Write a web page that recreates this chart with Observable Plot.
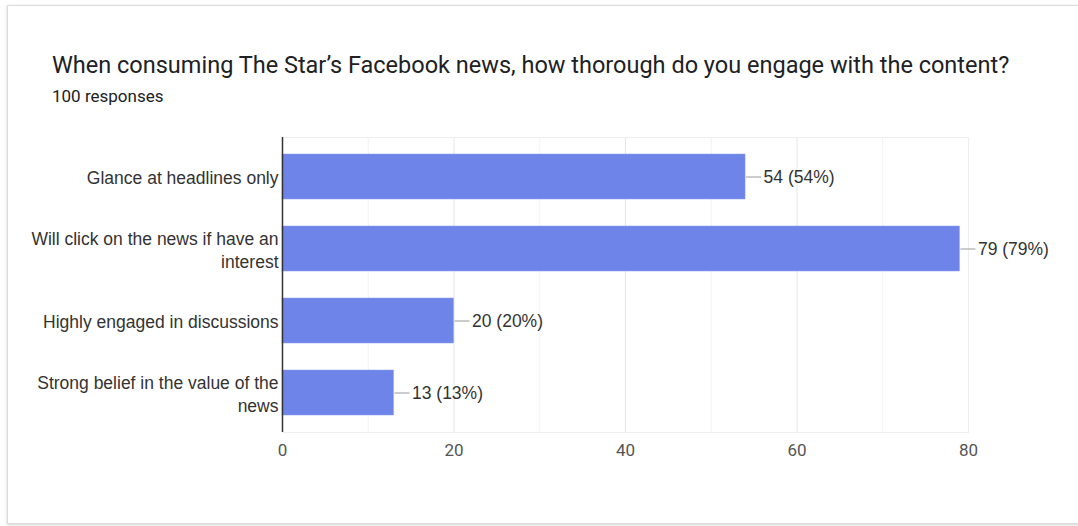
<!DOCTYPE html>
<html>
<head>
<meta charset="utf-8">
<script src="https://cdn.jsdelivr.net/npm/d3@7"></script>
<script src="https://cdn.jsdelivr.net/npm/@observablehq/plot@0.6"></script>
<style>
  html, body { margin: 0; padding: 0; background: #fff; width: 1078px; height: 526px; overflow: hidden; }
  #card { position: absolute; left: 7px; top: 5px; width: 1090px; height: 517px; border: 1px solid #dcdcdc; box-shadow: 0 1px 3px rgba(0,0,0,0.18); background: #fff; }
  #title { position: absolute; left: 52px; top: 51px; font-family: Roboto, "Noto Sans", sans-serif; font-size: 23.5px; color: #202124; white-space: nowrap; }
  #subtitle { position: absolute; left: 52px; top: 86px; font-family: Roboto, "Noto Sans", sans-serif; font-size: 17px; color: #202124; }
  #chart { position: absolute; left: 0; top: 120px; }
</style>
</head>
<body>
<div id="card"></div>
<div id="title">When consuming The Star’s Facebook news, how thorough do you engage with the content?</div>
<div id="subtitle">100 responses</div>
<div id="chart"></div>
<script>
const categories = [
  "Glance at headlines only",
  "Will click on the news if have an interest",
  "Highly engaged in discussions",
  "Strong belief in the value of the news"
];
const counts = [54, 79, 20, 13];
const percents = [54, 79, 20, 13];
const xTicks = [0, 20, 40, 60, 80];
const xMinorTicks = [10, 30, 50, 70];

const data = categories.map((c, i) => ({category: c, value: counts[i], pct: percents[i]}));

const wrap = (s) => {
  const words = s.split(" ");
  const lines = [];
  let line = "";
  for (const w of words) {
    const t = line ? line + " " + w : w;
    if (t.length > 33 && line) { lines.push(line); line = w; } else line = t;
  }
  lines.push(line);
  return lines.join("\n");
};

const chart = Plot.plot({
  width: 1078,
  height: 360,
  marginLeft: 282,
  marginRight: 110,
  marginTop: 17,
  marginBottom: 48,
  style: { fontFamily: "Arial, 'Liberation Sans', sans-serif", background: "transparent" },
  x: { domain: [0, 80], ticks: xTicks },
  y: { domain: categories, paddingInner: 0.374, paddingOuter: 0.216 },
  marks: [
    Plot.ruleX(xMinorTicks, { stroke: "#f2f2f2", strokeWidth: 1 }),
    Plot.ruleX(xTicks, { stroke: "#e6e6e6", strokeWidth: 1 }),
    Plot.frame({ stroke: "#eeeeee", strokeWidth: 1 }),
    Plot.barX(data, { x: "value", y: "category", fill: "#6f84e9", stroke: "#8a9cf0", strokeWidth: 0.5 }),
    Plot.ruleY(data, { y: "category", x1: "value", x2: "value", insetLeft: 1, insetRight: -16, stroke: "#9a9a9a", strokeWidth: 1 }),
    Plot.text(data, { x: "value", y: "category", text: d => `${d.value} (${d.pct}%)`, textAnchor: "start", dx: 18, fontSize: 17.5, fill: "#333" }),
    Plot.axisX({ ticks: xTicks, tickSize: 0, tickPadding: 11, fontSize: 17, color: "#555", fontFamily: "Roboto, sans-serif", label: null }),
    Plot.axisY({ tickSize: 0, tickPadding: 4, fontSize: 17.5, lineHeight: 1.3, color: "#333", tickFormat: wrap, label: null }),
    Plot.ruleX([0], { stroke: "#333", strokeWidth: 1.5 })
  ]
});
document.getElementById("chart").appendChild(chart);
</script>
</body>
</html>
